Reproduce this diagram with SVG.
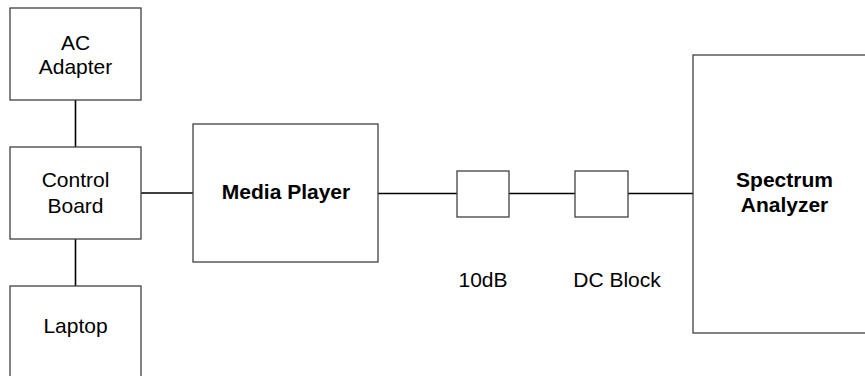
<svg xmlns="http://www.w3.org/2000/svg" width="865" height="376" viewBox="0 0 865 376">
<style>
.box{fill:#fff;stroke:#404040;stroke-width:1.3}
.ln{stroke:#000;stroke-width:1.6;fill:none}
.t{font-family:"Liberation Sans",Arial,sans-serif;font-size:21px;fill:#000;text-anchor:middle}
.b{font-weight:bold}
</style>
<rect width="865" height="376" fill="#fff"/>
<g id="connectors">
<line class="ln" x1="75.5" y1="100" x2="75.5" y2="147"/>
<line class="ln" x1="75.5" y1="239" x2="75.5" y2="286"/>
<line class="ln" x1="141" y1="193" x2="193" y2="193"/>
<line class="ln" x1="378" y1="193.5" x2="457" y2="193.5"/>
<line class="ln" x1="509" y1="193.5" x2="575" y2="193.5"/>
<line class="ln" x1="628" y1="193.5" x2="693" y2="193.5"/>
</g>
<g id="ac-adapter">
<rect class="box" x="10" y="8" width="131" height="92"/>
<text class="t" x="75.5" y="50">AC</text>
<text class="t" x="75.5" y="74">Adapter</text>
</g>
<g id="control-board">
<rect class="box" x="10" y="147" width="131" height="92"/>
<text class="t" x="75.5" y="187">Control</text>
<text class="t" x="75.5" y="213">Board</text>
</g>
<g id="laptop">
<rect class="box" x="10" y="286" width="131" height="100"/>
<text class="t" x="75.5" y="333">Laptop</text>
</g>
<g id="media-player">
<rect class="box" x="193" y="124" width="185" height="138"/>
<text class="t b" x="286" y="199">Media Player</text>
</g>
<g id="attenuator">
<rect class="box" x="457" y="171" width="52" height="46"/>
<text class="t" x="483" y="287">10dB</text>
</g>
<g id="dc-block">
<rect class="box" x="575" y="171" width="53" height="46"/>
<text class="t" x="617" y="287">DC Block</text>
</g>
<g id="spectrum-analyzer">
<rect class="box" x="693" y="55" width="180" height="278"/>
<text class="t b" x="784.5" y="187">Spectrum</text>
<text class="t b" x="784.5" y="212">Analyzer</text>
</g>
</svg>
